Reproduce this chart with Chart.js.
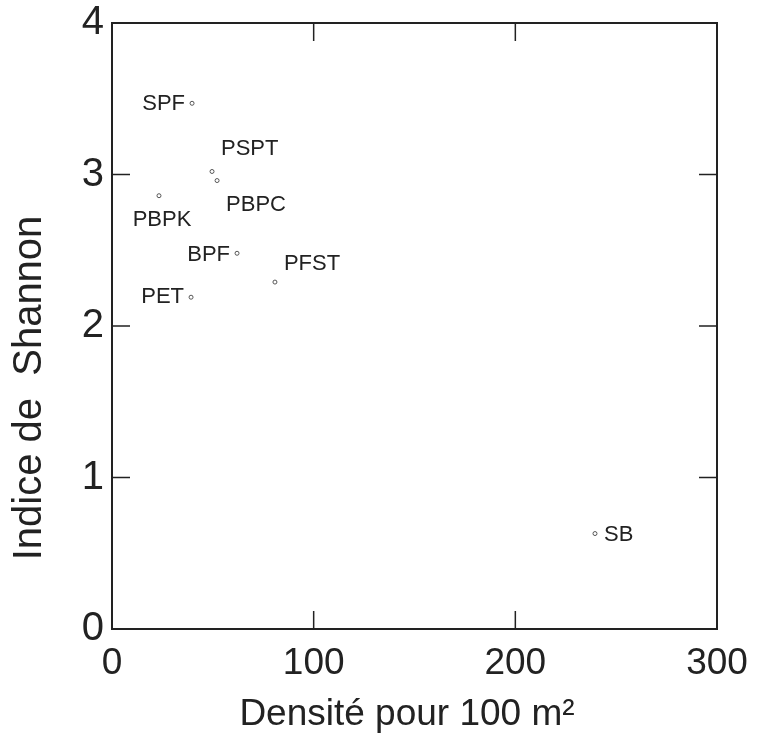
<!DOCTYPE html>
<html>
<head>
<meta charset="utf-8">
<script src="https://cdn.jsdelivr.net/npm/chart.js@4.4.0/dist/chart.umd.min.js"></script>
<style>
  html, body { margin: 0; padding: 0; background: #fff; }
  #wrap { width: 765px; height: 735px; }
</style>
</head>
<body>
<div id="wrap"><canvas id="chart" width="765" height="735"></canvas></div>
<script>
// Sites and their values (density per 100 m2, Shannon index)
const sites = ['SPF', 'PSPT', 'PBPC', 'PBPK', 'BPF', 'PFST', 'PET', 'SB'];
const density = [39.7, 49.6, 52.1, 23.3, 62, 80.8, 39.2, 239.5];
const shannon = [3.47, 3.02, 2.96, 2.86, 2.48, 2.29, 2.19, 0.63];
const xTicks = [0, 100, 200, 300];
const yTicks = [0, 1, 2, 3, 4];

// label placement relative to each point (pixels)
const labelOffsets = [[-30, 1], [35, -23], [33, 24], [3, 24], [-31, 2], [32, -18], [-31, 0], [27, 1]];

const points = density.map((x, i) => ({ x: x, y: shannon[i] }));

// box, inward ticks, point labels and axis titles
const framePlugin = {
  id: 'frame',
  afterDatasetsDraw(chart) {
    const ctx = chart.ctx;
    const a = chart.chartArea;
    const xs = chart.scales.x, ys = chart.scales.y;
    ctx.save();
    ctx.strokeStyle = '#222';
    ctx.lineWidth = 2;
    ctx.strokeRect(a.left, a.top, a.right - a.left, a.bottom - a.top);
    ctx.lineWidth = 1.5;
    const tl = 18;
    ctx.beginPath();
    xTicks.slice(1, -1).forEach(v => {
      const px = xs.getPixelForValue(v);
      ctx.moveTo(px, a.bottom); ctx.lineTo(px, a.bottom - tl);
      ctx.moveTo(px, a.top); ctx.lineTo(px, a.top + tl);
    });
    yTicks.slice(1, -1).forEach(v => {
      const py = ys.getPixelForValue(v);
      ctx.moveTo(a.left, py); ctx.lineTo(a.left + tl, py);
      ctx.moveTo(a.right, py); ctx.lineTo(a.right - tl, py);
    });
    ctx.stroke();

    // site labels
    ctx.fillStyle = '#222';
    ctx.font = '22px "Liberation Sans", Arial, sans-serif';
    ctx.textBaseline = 'middle';
    const meta = chart.getDatasetMeta(0);
    meta.data.forEach((pt, i) => {
      const off = labelOffsets[i];
      let tx = pt.x + off[0];
      if (off[0] < 0) { ctx.textAlign = 'right'; tx = pt.x - 7; }
      else if (Math.abs(off[0]) < 10) { ctx.textAlign = 'center'; }
      else { ctx.textAlign = 'left'; tx = pt.x + 9; }
      ctx.fillText(sites[i], tx, pt.y + off[1]);
    });

    // axis titles
    ctx.font = '37px "Liberation Sans", Arial, sans-serif';
    ctx.textAlign = 'center';
    ctx.fillText('Densité pour 100 m²', 407, 715);
    ctx.save();
    ctx.translate(28, 388);
    ctx.rotate(-Math.PI / 2);
    ctx.font = '40px "Liberation Sans", Arial, sans-serif';
    ctx.fillText('Indice de  Shannon', 0, 2);
    ctx.restore();
    ctx.restore();
  }
};

new Chart(document.getElementById('chart'), {
  type: 'scatter',
  data: {
    datasets: [{
      data: points,
      pointRadius: 2,
      pointHoverRadius: 2,
      pointBackgroundColor: '#fff',
      pointBorderColor: '#555',
      pointBorderWidth: 1
    }]
  },
  options: {
    responsive: false,
    animation: false,
    layout: { padding: { top: 23, right: 48, left: 0, bottom: 0 } },
    plugins: { legend: { display: false }, tooltip: { enabled: false } },
    scales: {
      x: {
        type: 'linear',
        min: 0, max: 300,
        afterBuildTicks: s => { s.ticks = xTicks.map(v => ({ value: v })); },
        afterFit: s => { s.height = 106; s.paddingLeft = 0; s.paddingRight = 0; },
        grid: { display: false, drawTicks: false },
        border: { display: false },
        ticks: {
          padding: 13,
          color: '#222',
          font: { size: 37, family: '"Liberation Sans", Arial, sans-serif' }
        }
      },
      y: {
        type: 'linear',
        min: 0, max: 4,
        afterBuildTicks: s => { s.ticks = yTicks.map(v => ({ value: v })); },
        afterFit: s => { s.width = 112; s.paddingTop = 0; s.paddingBottom = 0; },
        grid: { display: false, drawTicks: false },
        border: { display: false },
        ticks: {
          padding: 8,
          color: '#222',
          font: { size: 40, family: '"Liberation Sans", Arial, sans-serif' }
        }
      }
    }
  },
  plugins: [framePlugin]
});
</script>
</body>
</html>
